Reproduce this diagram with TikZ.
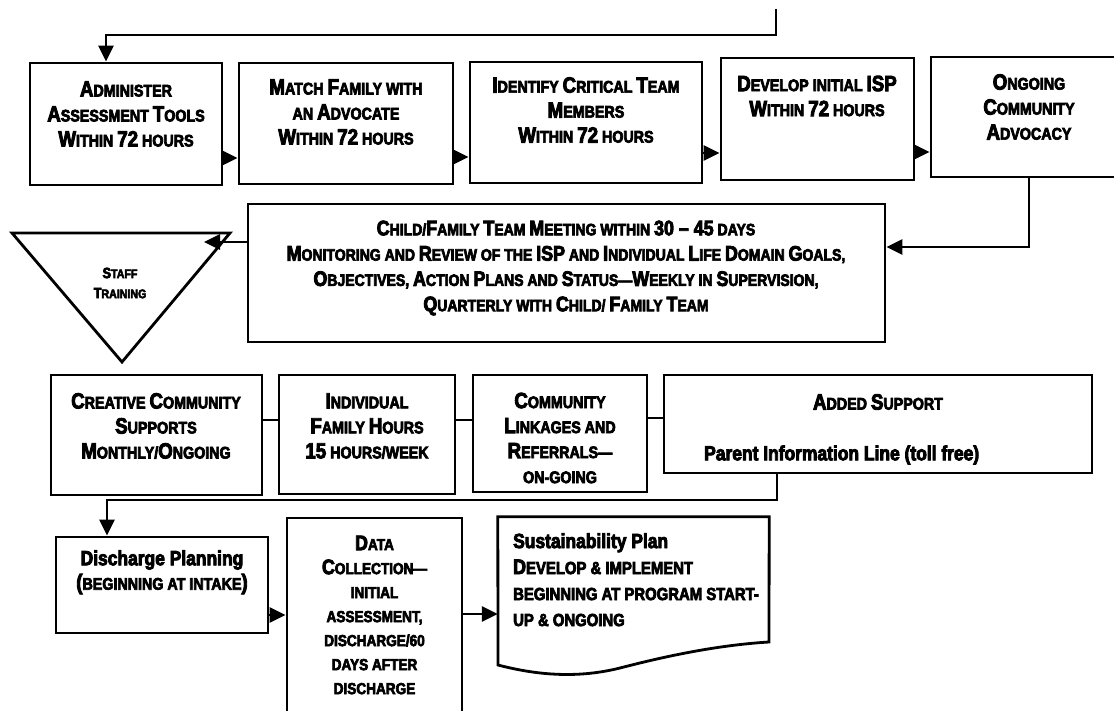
\documentclass[tikz,border=0pt]{standalone}
\usepackage{fontspec}
\setmainfont{Liberation Sans}[FakeStretch=0.85,BoldFeatures={FakeBold=4}]
\usetikzlibrary{arrows.meta}
\def\capsz{21}
\newcommand\Cp[1]{{\fontsize{\capsz}{0}\selectfont #1}}
\newcommand\setsz[3]{\fontsize{#1}{#3}\selectfont\gdef\capsz{#2}}
\begin{document}
\begin{tikzpicture}[x=1pt,y=-1pt,
  box/.style={draw,line width=2.8pt,rectangle,inner sep=0pt},
  ln/.style={line width=2.8pt},
  arr/.style={line width=2.8pt,-{Triangle[length=16pt,width=15pt]}},
  tA/.style={font=\bfseries\setsz{16.8}{22}{25}, align=center, inner sep=0pt},
  tB/.style={font=\bfseries\setsz{16.5}{21}{25.3}, align=center, inner sep=0pt},
  tS/.style={font=\bfseries\setsz{12.5}{15}{20}, align=center, inner sep=0pt},
  tD/.style={font=\bfseries\setsz{16}{21}{24}, align=center, inner sep=0pt},
  tL/.style={font=\bfseries\setsz{17.5}{21}{26}, align=left, inner sep=0pt},
  tM/.style={font=\bfseries\fontsize{20.5}{24}\selectfont, inner sep=0pt}]
\useasboundingbox (0,0) rectangle (1114,711);
\clip (0,0) rectangle (1114,711);
% boxes
\node[box,minimum width=192,minimum height=122] (b1) at (126,124) {};
\node[box,minimum width=214,minimum height=121] (b2) at (346,123.5) {};
\node[box,minimum width=232,minimum height=121] (b3) at (586,122.5) {};
\node[box,minimum width=193,minimum height=122] (b4) at (817.5,119) {};
\node[box,minimum width=196,minimum height=120] (b5) at (1029,117) {};
\node[box,minimum width=637,minimum height=138] (cf) at (566.5,273) {};
\node[box,minimum width=211,minimum height=120] (cr) at (156.5,435) {};
\node[box,minimum width=176,minimum height=119] (iv) at (367,434.5) {};
\node[box,minimum width=174,minimum height=117] (cm) at (560,433.5) {};
\node[box,minimum width=428,minimum height=98] (ad) at (878,424) {};
\node[box,minimum width=212,minimum height=96] (dp) at (162,585) {};
\node[box,minimum width=175,minimum height=212] (dc) at (374.5,624) {};
\node[inner sep=0pt,minimum width=271,minimum height=150] (su) at (633.5,592) {};
\draw[ln,line join=miter] (su.north west) -- (su.north east) -- (769,642)
  .. controls (720,645) and (670,655) .. (620,668)
  .. controls (580,678) and (540,676) .. (498,665) -- cycle;
% triangle
\coordinate (ta) at (12,233);
\coordinate (tb) at (230,233);
\coordinate (tc) at (122,362);
\draw[ln,line join=miter] (ta) -- (tb) -- (tc) -- cycle;
\coordinate (tin) at (204,242);
% texts
\node[tA] (t1) at (126,114) {\Cp{A}DMINISTER\\\Cp{A}SSESSMENT \Cp{T}OOLS\\\Cp{W}ITHIN \Cp{72} HOURS};
\node[tA] (t2) at (346,112) {\Cp{M}ATCH \Cp{F}AMILY WITH\\AN \Cp{A}DVOCATE\\\Cp{W}ITHIN \Cp{72} HOURS};
\node[tA] (t3) at (586,110) {\Cp{I}DENTIFY \Cp{C}RITICAL \Cp{T}EAM\\\Cp{M}EMBERS\\\Cp{W}ITHIN \Cp{72} HOURS};
\node[tA] (t4) at (817,96) {\Cp{D}EVELOP INITIAL \Cp{ISP}\\\Cp{W}ITHIN \Cp{72} HOURS};
\node[tA] (t5) at (1029,107) {\Cp{O}NGOING\\\Cp{C}OMMUNITY\\\Cp{A}DVOCACY};
\node[tB] (t6) at (566,268) {\Cp{C}HILD/\Cp{F}AMILY \Cp{T}EAM \Cp{M}EETING WITHIN \Cp{30 – 45} DAYS\\
  \Cp{M}ONITORING AND \Cp{R}EVIEW OF THE \Cp{ISP} AND \Cp{I}NDIVIDUAL \Cp{L}IFE \Cp{D}OMAIN \Cp{G}OALS,\\
  \Cp{O}BJECTIVES, \Cp{A}CTION \Cp{P}LANS AND \Cp{S}TATUS---\Cp{W}EEKLY IN \Cp{S}UPERVISION,\\
  \Cp{Q}UARTERLY WITH \Cp{C}HILD/ \Cp{F}AMILY \Cp{T}EAM};
\node[tS] (t7) at (120,283) {\Cp{S}TAFF\\\Cp{T}RAINING};
\node[tA] (t8) at (156,426) {\Cp{C}REATIVE \Cp{C}OMMUNITY\\\Cp{S}UPPORTS\\\Cp{M}ONTHLY/\Cp{O}NGOING};
\node[tA] (t9) at (367,426) {\Cp{I}NDIVIDUAL\\\Cp{F}AMILY \Cp{H}OURS\\\Cp{15} HOURS/WEEK};
\node[tA] (t10) at (560,438) {\Cp{C}OMMUNITY\\\Cp{L}INKAGES AND\\\Cp{R}EFERRALS---\\ON-GOING};
\node[tA] (t11) at (878,402) {\Cp{A}DDED \Cp{S}UPPORT};
\node[tM,anchor=west] (t12) at (704,455) {Parent Information Line (toll free)};
\node[tM] (t13) at (162,560) {Discharge Planning};
\node[tA] (t14) at (162,584) {\Cp{(}BEGINNING AT INTAKE\Cp{)}};
\node[tD] (t15) at (374.5,615) {\Cp{D}ATA\\\Cp{C}OLLECTION---\\INITIAL\\ASSESSMENT,\\DISCHARGE/60\\DAYS AFTER\\DISCHARGE};
\node[tL,anchor=north west] (t16) at (513,533) {{\fontsize{20.5}{26}\selectfont Sustainability Plan}\\\Cp{D}EVELOP \& IMPLEMENT\\BEGINNING AT PROGRAM START-\\UP \& ONGOING};
% connectors
\coordinate (top) at (776,9);
\coordinate (tl) at (106,35);
\draw[arr] (top) |- (tl) -- (tl |- b1.north);
\draw[arr] (b1.east |- 0,158) -- (b2.west |- 0,158);
\draw[arr] (b2.east |- 0,157) -- (b3.west |- 0,157);
\draw[arr] (b3.east |- 0,153) -- (b4.west |- 0,153);
\draw[arr] (b4.east |- 0,152) -- (b5.west |- 0,152);
\draw[arr] (b5.south) |- (cf.east |- 0,247);
\draw[arr] (cf.west |- 0,242) -- (tin);
\draw[ln] (cr.east |- 0,420) -- (iv.west |- 0,420);
\draw[ln] (iv.east |- 0,420) -- (cm.west |- 0,420);
\draw[ln] (cm.east |- 0,418) -- (ad.west |- 0,418);
\coordinate (dl) at (107,500);
\draw[arr] (ad.south -| 777,0) |- (dl) -- (dl |- dp.north);
\draw[arr] (dp.east |- 0,615) -- (dc.west |- 0,615);
\draw[arr] (dc.east |- 0,614) -- (su.west |- 0,614);
\end{tikzpicture}
\end{document}
